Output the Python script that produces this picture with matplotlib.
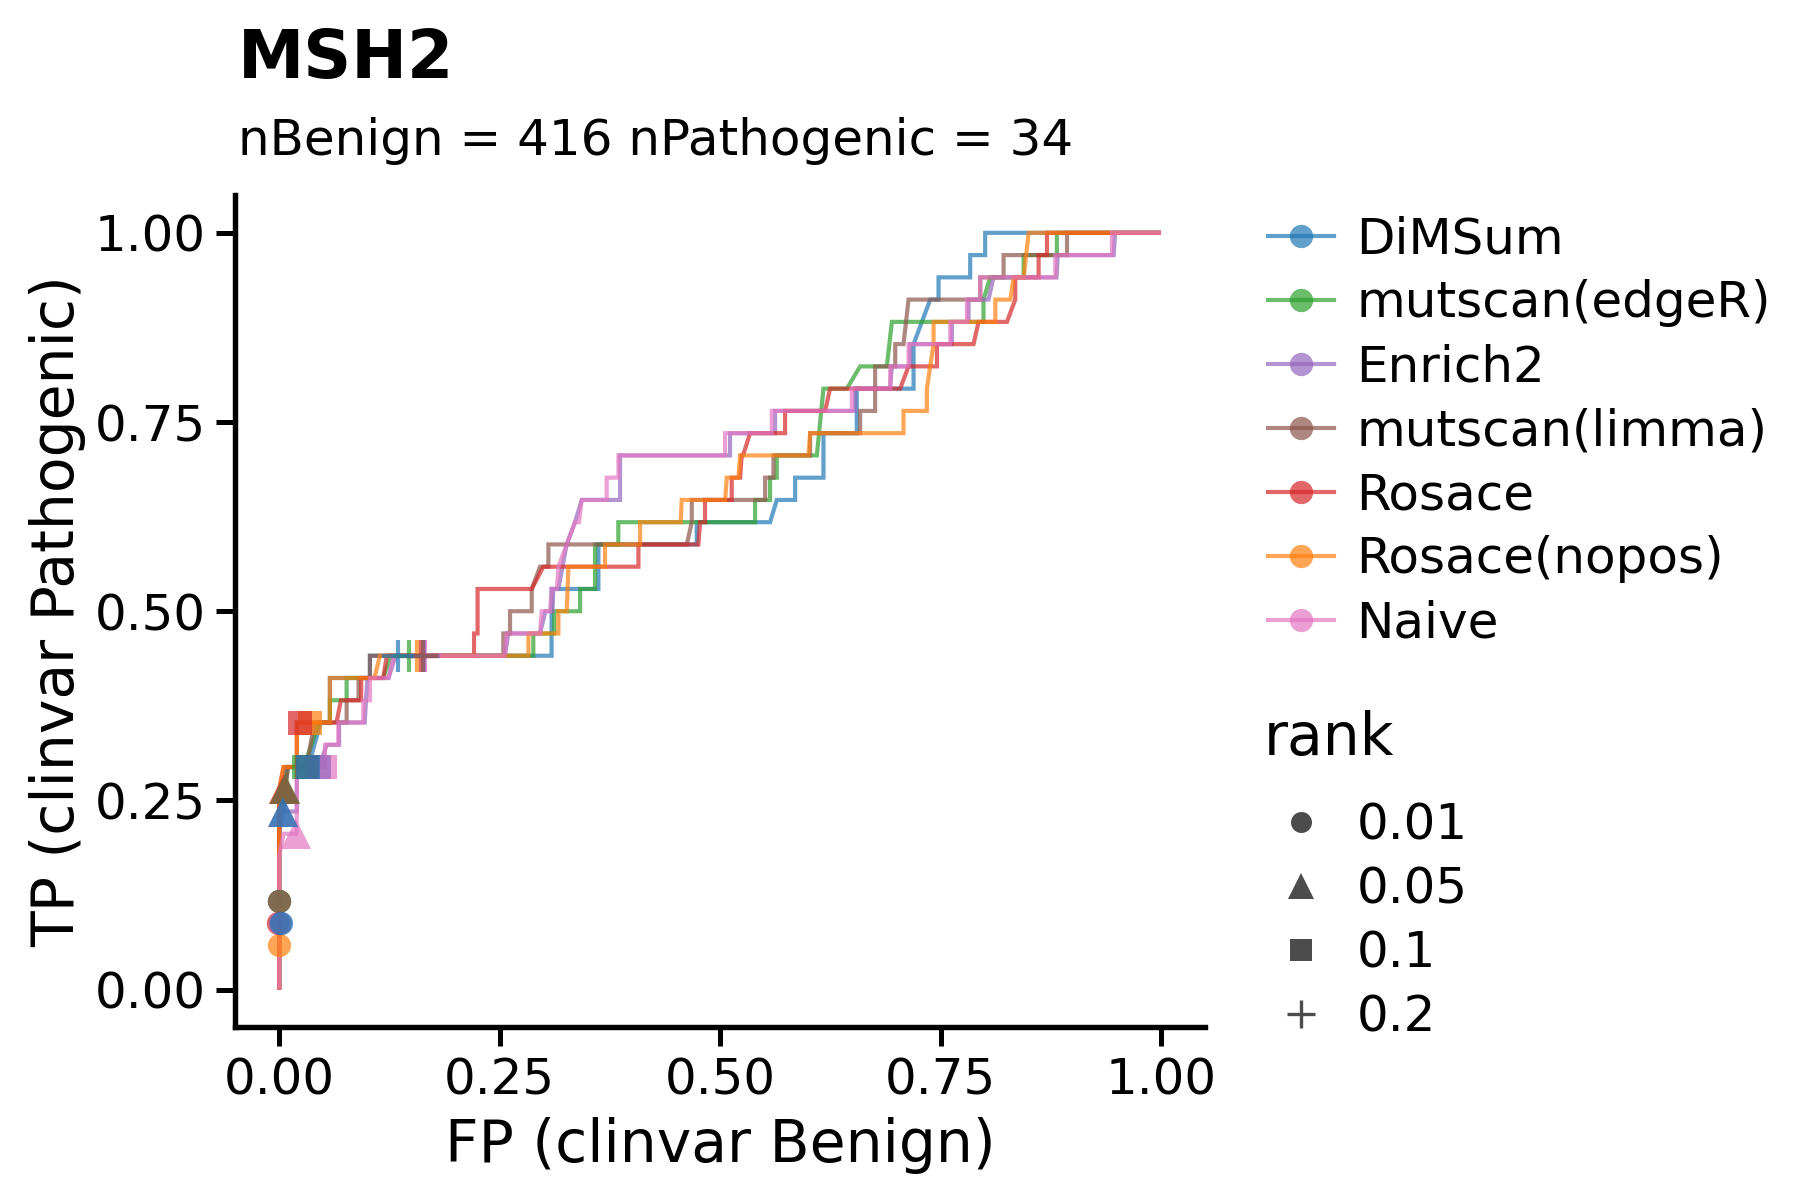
import matplotlib
matplotlib.use("Agg")
import matplotlib.pyplot as plt
from matplotlib.lines import Line2D

N_BENIGN = 416
N_PATHOGENIC = 34

methods = ["DiMSum", "mutscan(edgeR)", "Enrich2", "mutscan(limma)", "Rosace", "Rosace(nopos)", "Naive"]
colors = ["#1f77b4", "#2ca02c", "#9467bd", "#8c564b", "#d62728", "#ff7f0e", "#e377c2"]

# FP fraction and number of true positives (out of 34) along each curve
fp_dimsum = [0, 0, 0.005, 0.008, 0.033, 0.047, 0.0575, 0.0575, 0.1029, 0.1029, 0.3089, 0.3089, 0.3620, 0.3620,
             0.4735, 0.4735, 0.5567, 0.5643, 0.5851, 0.5851, 0.6172, 0.6172, 0.6550, 0.6550, 0.7194, 0.7194,
             0.7383, 0.7477, 0.7477, 0.7836, 0.7836, 0.8006, 0.8006, 1.0]
tp_dimsum = [0, 8, 8, 10, 10, 12, 12, 14, 14, 15, 15, 18, 18, 20, 20, 21, 21, 22, 22, 23, 23, 25, 25, 27, 27, 29,
             31, 31, 32, 32, 33, 33, 34, 34]

fp_edger = [0, 0, 0.0065, 0.010, 0.028, 0.045, 0.0575, 0.0575, 0.0765, 0.0765, 0.118, 0.127, 0.2882, 0.2882,
            0.3120, 0.3120, 0.3412, 0.3412, 0.3582, 0.3582, 0.3846, 0.3846, 0.5397, 0.5397, 0.5567, 0.5567,
            0.5643, 0.5643, 0.6097, 0.6172, 0.6437, 0.6588, 0.6891, 0.6948, 0.7987, 0.7987, 0.8063, 0.8442,
            0.8442, 0.8819, 0.8819, 1.0]
tp_edger = [0, 9, 9, 10, 10, 12, 12, 13, 13, 14, 14, 15, 15, 16, 16, 17, 17, 18, 18, 20, 20, 21, 21, 22, 22, 23,
            23, 24, 24, 27, 27, 28, 28, 30, 30, 31, 32, 32, 33, 33, 34, 34]

fp_enrich2 = [0, 0, 0.004, 0.020, 0.020, 0.045, 0.054, 0.068, 0.068, 0.097, 0.100, 0.124, 0.132, 0.2561, 0.2598,
              0.2958, 0.3020, 0.3100, 0.3109, 0.3166, 0.3260, 0.3355, 0.3431, 0.3866, 0.3866, 0.5113, 0.5113,
              0.5624, 0.5624, 0.6531, 0.6531, 0.6928, 0.6948, 0.7156, 0.7156, 0.7629, 0.7629, 0.7818, 0.7818,
              0.8044, 0.8100, 0.8815, 0.8830, 0.9463, 0.9480, 1.0]
tp_enrich2 = [0, 7, 8, 8, 10, 10, 11, 11, 12, 12, 14, 14, 15, 15, 16, 16, 17, 17, 18, 18, 20, 21, 22, 22, 24, 24,
              25, 25, 26, 26, 27, 27, 28, 28, 29, 29, 30, 30, 31, 31, 32, 32, 33, 33, 34, 34]

fp_limma = [0, 0, 0.007, 0.010, 0.031, 0.040, 0.0765, 0.0765, 0.0900, 0.0900, 0.1029, 0.1029, 0.2542, 0.2542,
            0.2618, 0.2618, 0.2864, 0.2864, 0.2958, 0.3053, 0.3053, 0.4622, 0.4679, 0.4679, 0.5511, 0.5511,
            0.5605, 0.5605, 0.6021, 0.6021, 0.6588, 0.6588, 0.6758, 0.6758, 0.6986, 0.6986, 0.7080, 0.7137,
            0.7950, 0.7950, 0.8215, 0.8215, 0.8934, 0.8934, 1.0]
tp_limma = [0, 9, 9, 10, 10, 12, 12, 13, 13, 14, 14, 15, 15, 16, 16, 17, 17, 18, 19, 19, 20, 20, 21, 22, 22, 23,
            23, 24, 24, 25, 25, 26, 26, 28, 28, 29, 29, 31, 31, 32, 32, 33, 33, 34, 34]

fp_rosace = [0, 0, 0.005, 0.020, 0.020, 0.065, 0.070, 0.093, 0.093, 0.118, 0.122, 0.2210, 0.2210, 0.2250, 0.2250,
             0.2864, 0.2996, 0.4074, 0.4074, 0.4754, 0.4773, 0.4829, 0.4829, 0.5132, 0.5132, 0.5227, 0.5245,
             0.5260, 0.5340, 0.5737, 0.5737, 0.6191, 0.6247, 0.7042, 0.7137, 0.7459, 0.7459, 0.7874, 0.7931,
             0.8253, 0.8347, 0.8347, 0.8612, 0.8612, 0.8707, 0.8707, 1.0]
tp_rosace = [0, 9, 10, 10, 12, 12, 13, 13, 14, 14, 15, 15, 16, 16, 18, 18, 19, 19, 20, 20, 21, 21, 22, 22, 23, 23,
             24, 24, 25, 25, 26, 26, 27, 27, 28, 28, 29, 29, 30, 30, 31, 32, 32, 33, 33, 34, 34]

fp_nopos = [0, 0, 0.005, 0.020, 0.020, 0.0575, 0.0575, 0.108, 0.1142, 0.2826, 0.2826, 0.3166, 0.3166, 0.3261,
            0.3280, 0.3695, 0.3695, 0.4093, 0.4093, 0.4553, 0.4565, 0.5057, 0.5076, 0.5208, 0.5227, 0.6002,
            0.6021, 0.7080, 0.7080, 0.7345, 0.7345, 0.7421, 0.7421, 0.8121, 0.8121, 0.8291, 0.8329, 0.8442,
            0.8499, 1.0]
tp_nopos = [0, 9, 10, 10, 12, 12, 14, 14, 15, 15, 16, 16, 17, 17, 19, 19, 20, 20, 21, 21, 22, 22, 23, 23, 24, 24,
            25, 25, 26, 26, 27, 29, 30, 30, 31, 31, 32, 32, 34, 34]

fp_naive = [0, 0, 0.005, 0.0195, 0.020, 0.020, 0.052, 0.052, 0.067, 0.067, 0.0954, 0.0954, 0.103, 0.103, 0.124,
            0.130, 0.2555, 0.2580, 0.2958, 0.2977, 0.3071, 0.3090, 0.3150, 0.3166, 0.3260, 0.3355, 0.3400,
            0.3431, 0.3714, 0.3714, 0.3847, 0.3847, 0.5056, 0.5056, 0.5586, 0.5586, 0.6494, 0.6494, 0.6929,
            0.6929, 0.7137, 0.7137, 0.7610, 0.7610, 0.7799, 0.7799, 0.7950, 0.7950, 0.8801, 0.8801, 0.9444,
            0.9444, 1.0]
tp_naive = [0, 6, 7, 7, 8, 10, 10, 11, 11, 12, 12, 13, 13, 14, 14, 15, 15, 16, 16, 17, 17, 18, 18, 19, 20, 21, 21,
            22, 22, 23, 23, 24, 24, 25, 25, 26, 26, 27, 27, 28, 28, 29, 29, 30, 30, 31, 31, 32, 32, 33, 33, 34, 34]

# rank cut-off points on each curve: ranks 0.01, 0.05, 0.1, 0.2
rank_labels = ["0.01", "0.05", "0.1", "0.2"]
rank_markers = ["o", "^", "s", "+"]
rank_sizes = [5.6, 7.0, 5.8, 7.5]
rank_fp_dimsum = [0.002, 0.004, 0.033, 0.135]
rank_tp_dimsum = [3, 8, 10, 15]
rank_fp_edger = [0.0, 0.0065, 0.028, 0.147]
rank_tp_edger = [4, 9, 10, 15]
rank_fp_enrich2 = [0.001, 0.004, 0.045, 0.164]
rank_tp_enrich2 = [3, 8, 10, 15]
rank_fp_limma = [0.0, 0.007, 0.031, 0.163]
rank_tp_limma = [4, 9, 10, 15]
rank_fp_rosace = [-0.001, 0.006, 0.0235, 0.161]
rank_tp_rosace = [3, 9, 12, 15]
rank_fp_nopos = [0.0, 0.006, 0.035, 0.1566]
rank_tp_nopos = [2, 9, 12, 15]
rank_fp_naive = [0.0, 0.0195, 0.052, 0.165]
rank_tp_naive = [4, 7, 10, 15]

curves_fp = [fp_dimsum, fp_edger, fp_enrich2, fp_limma, fp_rosace, fp_nopos, fp_naive]
curves_tp = [tp_dimsum, tp_edger, tp_enrich2, tp_limma, tp_rosace, tp_nopos, tp_naive]
ranks_fp = [rank_fp_dimsum, rank_fp_edger, rank_fp_enrich2, rank_fp_limma, rank_fp_rosace, rank_fp_nopos, rank_fp_naive]
ranks_tp = [rank_tp_dimsum, rank_tp_edger, rank_tp_enrich2, rank_tp_limma, rank_tp_rosace, rank_tp_nopos, rank_tp_naive]
# stacking order of the rank markers (bottom to top), as indices into methods
marker_order = [6, 5, 4, 1, 2, 3, 0]

ticks = [0.0, 0.25, 0.5, 0.75, 1.0]
tick_labels = ["0.00", "0.25", "0.50", "0.75", "1.00"]

plt.rcParams["font.family"] = ["DejaVu Sans"]
fig = plt.figure(figsize=(6, 4), dpi=300)
ax = fig.add_axes([0.1306, 0.1438, 0.5389, 0.6937])

ALPHA = 0.7
for fp, tp, c in zip(curves_fp, curves_tp, colors):
    ax.plot(fp, [t / N_PATHOGENIC for t in tp], color=c, lw=1.0, alpha=ALPHA, zorder=2,
            solid_joinstyle="miter", solid_capstyle="butt")

for i in marker_order:
    for x, t, m, s in zip(ranks_fp[i], ranks_tp[i], rank_markers, rank_sizes):
        ax.plot([x], [t / N_PATHOGENIC], ls="none", marker=m, markersize=s,
                markeredgewidth=(1.0 if m == "+" else 0), color=colors[i], alpha=ALPHA, zorder=3)

ax.set_xlim(-0.05, 1.05)
ax.set_ylim(-0.05, 1.05)
ax.set_xticks(ticks)
ax.set_xticklabels(tick_labels)
ax.set_yticks(ticks)
ax.set_yticklabels(tick_labels)
ax.tick_params(axis="both", labelsize=12, length=4.5, width=1.2, pad=2.5, colors="black")
for side in ["top", "right"]:
    ax.spines[side].set_visible(False)
for side in ["left", "bottom"]:
    ax.spines[side].set_linewidth(1.3)
ax.set_xlabel("FP (clinvar Benign)", fontsize=14, labelpad=3)
ax.set_ylabel("TP (clinvar Pathogenic)", fontsize=14, labelpad=2)

fig.text(0.1322, 0.935, "MSH2", fontsize=16, fontweight="bold", va="baseline", ha="left")
fig.text(0.1322, 0.871, f"nBenign = {N_BENIGN} nPathogenic = {N_PATHOGENIC}", fontsize=12,
         va="baseline", ha="left")

method_handles = [Line2D([0], [0], color=c, lw=1.0, marker="o", markersize=5.6, markeredgewidth=0, alpha=ALPHA)
                  for c in colors]
leg1 = fig.legend(method_handles, methods, loc="upper left", bbox_to_anchor=(0.7044, 0.8205),
                  frameon=False, fontsize=12, handlelength=1.32, handletextpad=0.45,
                  labelspacing=0.32, borderpad=0, borderaxespad=0)
rank_handles = [Line2D([0], [0], ls="none", color="black", marker=m, markersize=s * 0.9,
                       markeredgewidth=(0.8 if m == "+" else 0), alpha=ALPHA)
                for m, s in zip(rank_markers, rank_sizes)]
leg2 = fig.legend(rank_handles, rank_labels, loc="upper left", bbox_to_anchor=(0.7044, 0.3325),
                  frameon=False, fontsize=12, handlelength=1.32, handletextpad=0.45,
                  labelspacing=0.32, borderpad=0, borderaxespad=0)
fig.text(0.7022, 0.385, "rank", fontsize=14, va="center", ha="left")

fig.savefig("out.png", dpi=300)
